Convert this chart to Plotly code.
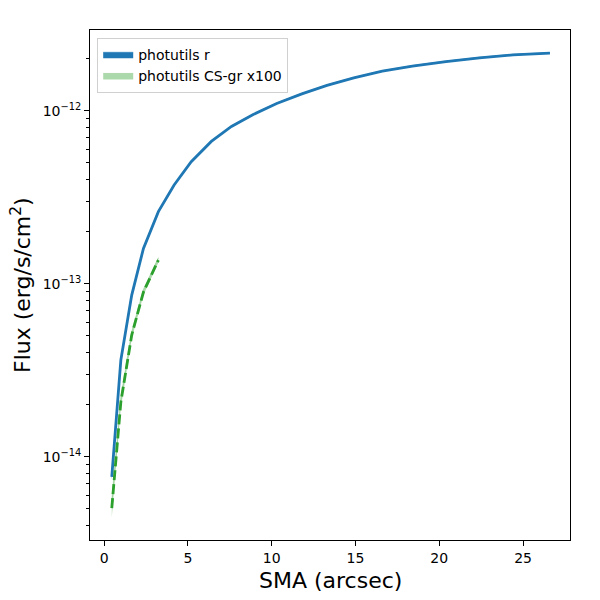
import plotly.graph_objects as go

# photutils r profile (flux vs semi-major axis)
sma_r = [0.46, 1.0, 1.65, 2.35, 3.24, 4.18, 5.2, 6.4, 7.6, 8.9, 10.3, 11.8, 13.3,
         14.9, 16.6, 18.4, 20.4, 22.4, 24.4, 26.6]
flux_r = [7.65e-15, 3.62e-14, 8.6e-14, 1.60e-13, 2.61e-13, 3.72e-13, 5.07e-13, 6.64e-13,
          8.1e-13, 9.5e-13, 1.10e-12, 1.25e-12, 1.40e-12, 1.545e-12, 1.69e-12, 1.81e-12,
          1.92e-12, 2.02e-12, 2.10e-12, 2.15e-12]
err_r = [0.3e-15, 0.6e-15, 1.0e-15, 1.5e-15, 2e-15, 2.5e-15, 3e-15, 4e-15, 5e-15, 6e-15,
         7e-15, 8e-15, 9e-15, 1e-14, 1.1e-14, 1.2e-14, 1.3e-14, 1.4e-14, 1.5e-14, 1.6e-14]

# photutils CS-gr profile, scaled x100
sma_g = [0.46, 1.0, 1.65, 2.35, 3.24]
flux_g = [5.05e-15, 2.07e-14, 5.05e-14, 8.95e-14, 1.37e-13]
err_g = [0.6e-15, 1.5e-15, 2.5e-15, 3.5e-15, 4.5e-15]

blue = "#1f77b4"
green = "#2ca02c"

fig = go.Figure()


def add_band(x, y, e, fillcolor, edge, name):
    lo = [a - b for a, b in zip(y, e)]
    hi = [a + b for a, b in zip(y, e)]
    fig.add_trace(go.Scatter(x=x, y=lo, mode="lines", line=dict(width=0, color=fillcolor),
                             showlegend=False, hoverinfo="skip"))
    fig.add_trace(go.Scatter(x=x, y=hi, mode="lines", line=dict(width=0.5, color=edge),
                             fill="tonexty", fillcolor=fillcolor, name=name))


add_band(sma_r, flux_r, err_r, blue, blue, "photutils r")
fig.add_trace(go.Scatter(x=sma_r, y=flux_r, mode="lines", line=dict(color=blue, width=2.8),
                         showlegend=False))
add_band(sma_g, flux_g, err_g, "rgba(44,160,44,0.4)", "rgba(44,160,44,0.5)",
         "photutils CS-gr x100")
fig.add_trace(go.Scatter(x=sma_g, y=flux_g, mode="lines",
                         line=dict(color=green, width=2.8, dash="10px,4px"),
                         showlegend=False))

minor_vals = [m * 10.0 ** p for p in (-15, -14, -13, -12) for m in range(2, 10)]

fig.update_layout(
    width=592, height=592,
    margin=dict(l=82, r=30, t=22, b=60),
    paper_bgcolor="white", plot_bgcolor="white",
    font=dict(family="DejaVu Sans", size=14, color="black"),
    legend=dict(x=0.015, y=0.985, xanchor="left", yanchor="top", traceorder="normal",
                bgcolor="rgba(255,255,255,0.8)", bordercolor="#d0d0d0", borderwidth=1,
                font=dict(size=14)),
    xaxis=dict(range=[-0.84, 27.8], showgrid=False, zeroline=False, automargin=False,
               showline=True, mirror=True, linecolor="black", linewidth=1,
               ticks="outside", ticklen=5, tickcolor="black",
               tickvals=[0, 5, 10, 15, 20, 25]),
    yaxis=dict(type="log", range=[-14.481, -11.534], showgrid=False, zeroline=False,
               automargin=False,
               showline=True, mirror=True, linecolor="black", linewidth=1,
               ticks="outside", ticklen=5, tickcolor="black",
               tickvals=[1e-14, 1e-13, 1e-12],
               ticktext=["10<sup>\u221214</sup>", "10<sup>\u221213</sup>", "10<sup>\u221212</sup>"],
               minor=dict(tickvals=minor_vals, ticks="outside", ticklen=3, tickcolor="black")),
    annotations=[
        dict(text="SMA (arcsec)", x=0.5, y=0, xref="paper", yref="paper",
             xanchor="center", yanchor="middle", yshift=-40, showarrow=False,
             font=dict(size=22)),
        dict(text="Flux (erg/s/cm<sup>2</sup>)", x=0, y=0.5, xref="paper", yref="paper",
             xanchor="center", yanchor="middle", xshift=-69, textangle=-90,
             showarrow=False, font=dict(size=22)),
    ],
)

fig.write_html("out.html")
